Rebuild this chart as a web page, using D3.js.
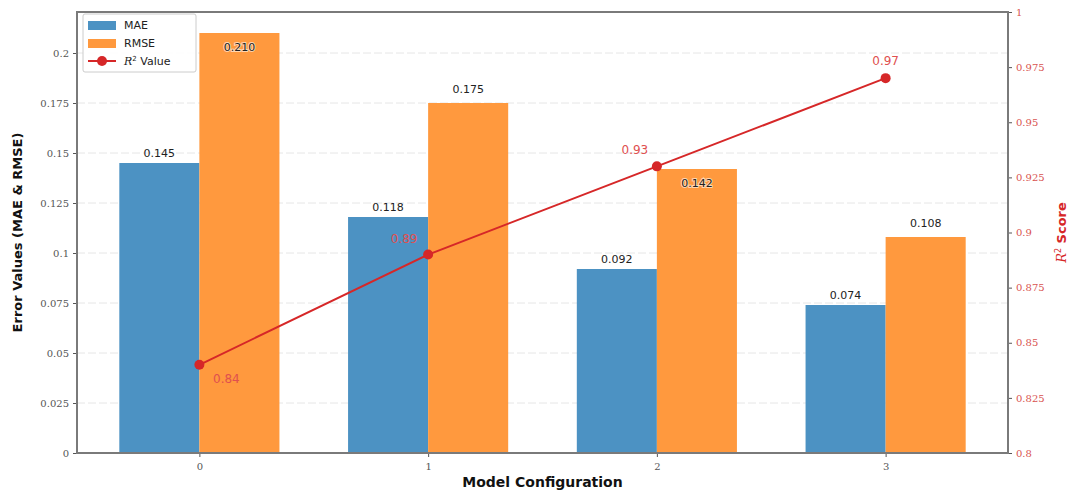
<!DOCTYPE html>
<html>
<head>
<meta charset="utf-8">
<script src="https://cdn.jsdelivr.net/npm/d3@7"></script>
<style>
  html, body { margin: 0; padding: 0; background: #fff; }
  svg { display: block; }
</style>
</head>
<body>
<svg id="chart" width="1068" height="493"></svg>
<script>
// Model configurations and their metrics
const configs = [0, 1, 2, 3];
const maeValues = [0.145, 0.118, 0.092, 0.074];
const rmseValues = [0.210, 0.175, 0.142, 0.108];
const r2Values = [0.84, 0.89, 0.93, 0.97];
const leftTicks = [0, 0.025, 0.05, 0.075, 0.1, 0.125, 0.15, 0.175, 0.2];
const rightTicks = [0.8, 0.825, 0.85, 0.875, 0.9, 0.925, 0.95, 0.975, 1];

// Layout
const W = 1068, H = 493;
const plot = { left: 77, right: 1008, top: 12, bottom: 453 };
const barWidth = 0.35;
const colMAE = "#4c92c3", colRMSE = "#ff993e", colR2 = "#d62728";
const tickFont = "'DejaVu Serif', 'Liberation Serif', serif";
const sansFont = "'DejaVu Sans', 'Noto Sans', sans-serif";

// RMSE labels that sit just inside the bar top (kept clear of legend / line)
const rmseInside = [true, false, true, false];
// R² label offsets (dx, dy) relative to each marker
const r2LabelOffset = [[27, 18], [-24, -12], [-22, -12], [0, -13]];

const svg = d3.select("#chart");

const x = d3.scaleLinear()
  .domain([-barWidth - 0.185, configs.length - 1 + barWidth + 0.185])
  .range([plot.left, plot.right]);
const yL = d3.scaleLinear().domain([0, 0.2205]).range([plot.bottom, plot.top]);
const yR = d3.scaleLinear().domain([0.8, 1.0]).range([plot.bottom, plot.top]);

const fmt = v => String(+v.toFixed(3));

// Horizontal grid for the error axis
svg.append("g").selectAll("line").data(leftTicks.filter(t => t > 0)).join("line")
  .attr("x1", plot.left).attr("x2", plot.right)
  .attr("y1", d => yL(d)).attr("y2", d => yL(d))
  .attr("stroke", "#e6e6e6").attr("stroke-width", 1).attr("stroke-dasharray", "8,3");

// Bars
const bars = svg.append("g");
bars.selectAll("rect.mae").data(configs).join("rect")
  .attr("class", "mae")
  .attr("x", (d) => x(d - barWidth))
  .attr("width", x(barWidth) - x(0))
  .attr("y", (d, i) => yL(maeValues[i]))
  .attr("height", (d, i) => yL(0) - yL(maeValues[i]))
  .attr("fill", colMAE);
bars.selectAll("rect.rmse").data(configs).join("rect")
  .attr("class", "rmse")
  .attr("x", (d) => x(d))
  .attr("width", x(barWidth) - x(0))
  .attr("y", (d, i) => yL(rmseValues[i]))
  .attr("height", (d, i) => yL(0) - yL(rmseValues[i]))
  .attr("fill", colRMSE);

// Axes
const axL = svg.append("g").attr("transform", `translate(${plot.left},0)`)
  .call(d3.axisLeft(yL).tickValues(leftTicks).tickFormat(fmt).tickSize(4).tickPadding(4));
const axR = svg.append("g").attr("transform", `translate(${plot.right},0)`)
  .call(d3.axisRight(yR).tickValues(rightTicks).tickFormat(fmt).tickSize(4).tickPadding(4));
const axB = svg.append("g").attr("transform", `translate(0,${plot.bottom})`)
  .call(d3.axisBottom(x).tickValues(configs).tickFormat(d3.format("d")).tickSize(4).tickPadding(6));
[axL, axR, axB].forEach(a => {
  a.select(".domain").remove();
  a.selectAll(".tick line").attr("stroke", "#555");
  a.selectAll(".tick text").attr("font-family", tickFont).attr("font-size", 10).attr("fill", "#555");
});
axR.selectAll(".tick text").attr("fill", "#d9534f");

// Frame
svg.append("rect")
  .attr("x", plot.left).attr("y", plot.top)
  .attr("width", plot.right - plot.left).attr("height", plot.bottom - plot.top)
  .attr("fill", "none").attr("stroke", "#7a7a7a").attr("stroke-width", 2);

// Bar value labels
const lbl = svg.append("g").attr("font-family", sansFont).attr("font-size", 11).attr("fill", "#222")
  .attr("text-anchor", "middle");
lbl.selectAll("text.mae").data(configs).join("text")
  .attr("x", d => x(d - barWidth / 2))
  .attr("y", (d, i) => yL(maeValues[i]) - 6)
  .text((d, i) => maeValues[i].toFixed(3));
lbl.selectAll("text.rmse").data(configs).join("text")
  .attr("x", d => x(d + barWidth / 2))
  .attr("y", (d, i) => rmseInside[i] ? yL(rmseValues[i]) + 18 : yL(rmseValues[i]) - 10)
  .attr("stroke", (d, i) => rmseInside[i] ? "rgba(255,255,255,0.6)" : "none")
  .attr("stroke-width", 2).attr("paint-order", "stroke")
  .text((d, i) => rmseValues[i].toFixed(3));

// R² line on the secondary axis
const line = d3.line().x(d => x(d)).y((d, i) => yR(r2Values[i]));
svg.append("path").datum(configs)
  .attr("d", line).attr("fill", "none").attr("stroke", colR2).attr("stroke-width", 2);
svg.append("g").selectAll("circle").data(configs).join("circle")
  .attr("cx", d => x(d)).attr("cy", (d, i) => yR(r2Values[i])).attr("r", 5)
  .attr("fill", colR2);
svg.append("g").attr("font-family", sansFont).attr("font-size", 12).attr("fill", "#e0504f")
  .attr("text-anchor", "middle")
  .selectAll("text").data(configs).join("text")
  .attr("x", (d, i) => x(d) + r2LabelOffset[i][0])
  .attr("y", (d, i) => yR(r2Values[i]) + r2LabelOffset[i][1])
  .text((d, i) => r2Values[i].toFixed(2));

// Axis titles
svg.append("text")
  .attr("transform", `translate(22,${(plot.top + plot.bottom) / 2}) rotate(-90)`)
  .attr("text-anchor", "middle").attr("font-family", sansFont).attr("font-weight", "bold")
  .attr("font-size", 13).attr("fill", "#111")
  .text("Error Values (MAE & RMSE)");
svg.append("text")
  .attr("x", (plot.left + plot.right) / 2).attr("y", 487)
  .attr("text-anchor", "middle").attr("font-family", sansFont).attr("font-weight", "bold")
  .attr("font-size", 14).attr("fill", "#111")
  .text("Model Configuration");
const rTitle = svg.append("text")
  .attr("transform", `translate(1066,${(plot.top + plot.bottom) / 2}) rotate(-90)`)
  .attr("text-anchor", "middle").attr("font-family", sansFont).attr("font-weight", "bold")
  .attr("font-size", 13).attr("fill", colR2);
rTitle.append("tspan").attr("font-family", tickFont).attr("font-style", "italic").attr("font-weight", "normal").text("R");
rTitle.append("tspan").attr("font-size", 8).attr("dy", -5).attr("font-weight", "normal").text("2");
rTitle.append("tspan").attr("dy", 5).text(" Score");

// Legend
const lg = svg.append("g").attr("transform", "translate(83,14)");
lg.append("rect").attr("width", 113).attr("height", 58).attr("rx", 2)
  .attr("fill", "rgba(255,255,255,0.9)").attr("stroke", "#ccc");
const items = [
  { key: "MAE", type: "bar", color: colMAE },
  { key: "RMSE", type: "bar", color: colRMSE },
  { key: "R2", type: "line", color: colR2 }
];
items.forEach((it, i) => {
  const gy = 11 + i * 18;
  const g = lg.append("g").attr("transform", `translate(5,${gy})`);
  if (it.type === "bar") {
    g.append("rect").attr("x", 0).attr("y", -4).attr("width", 28).attr("height", 9).attr("fill", it.color);
  } else {
    g.append("line").attr("x1", 0).attr("x2", 28).attr("y1", 0).attr("y2", 0)
      .attr("stroke", it.color).attr("stroke-width", 2);
    g.append("circle").attr("cx", 14).attr("cy", 0).attr("r", 5).attr("fill", it.color);
  }
  const t = g.append("text").attr("x", 36).attr("y", 4).attr("font-family", sansFont)
    .attr("font-size", 11).attr("fill", "#222");
  if (it.key === "R2") {
    t.append("tspan").attr("font-family", tickFont).attr("font-style", "italic").text("R");
    t.append("tspan").attr("font-size", 7).attr("dy", -4).text("2");
    t.append("tspan").attr("dy", 4).text(" Value");
  } else {
    t.text(it.key);
  }
});
</script>
</body>
</html>
